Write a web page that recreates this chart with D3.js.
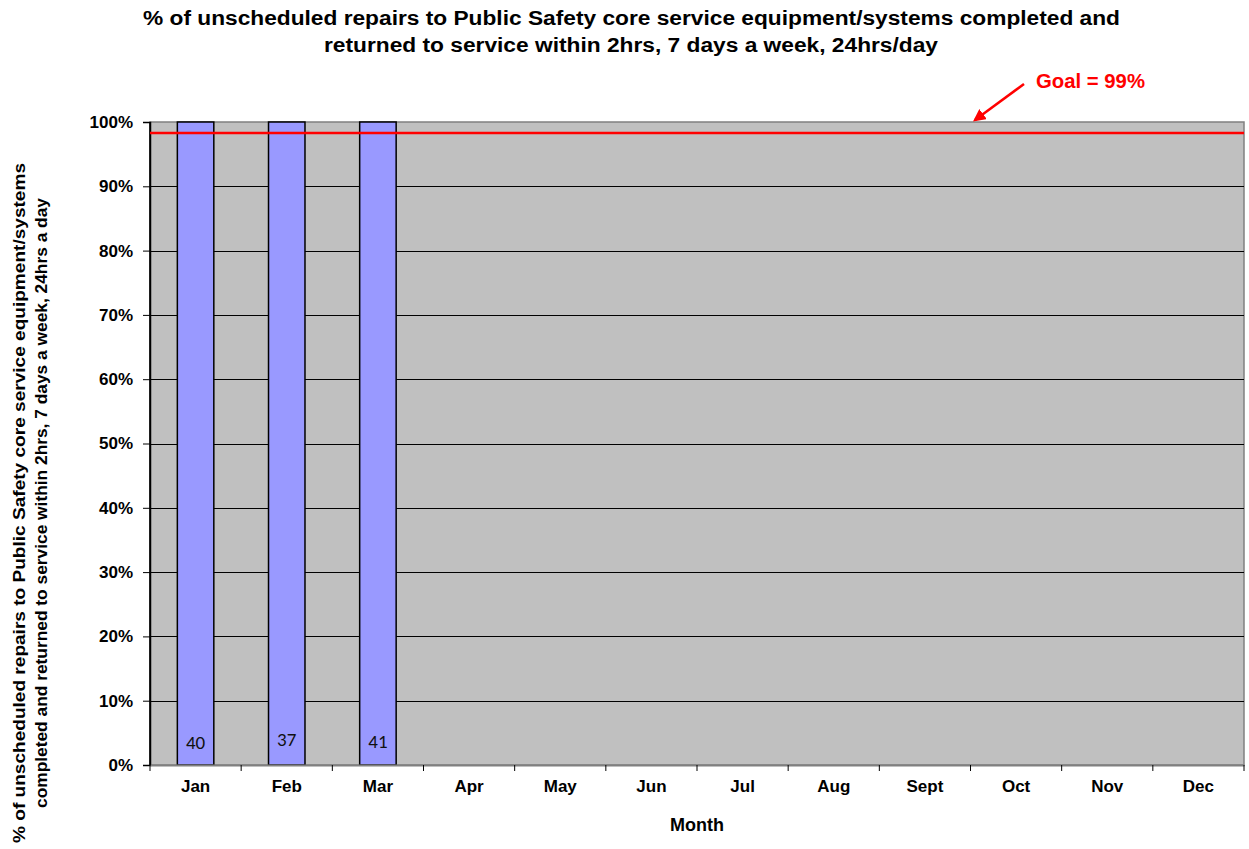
<!DOCTYPE html>
<html>
<head>
<meta charset="utf-8">
<script src="https://cdn.jsdelivr.net/npm/d3@7"></script>
<style>
  body { margin: 0; background: #fff; }
  text { font-family: Arial, "Liberation Sans", sans-serif; }
</style>
</head>
<body>
<div id="canvas"></div>
<script>
// data
var months = ['Jan','Feb','Mar','Apr','May','Jun','Jul','Aug','Sept','Oct','Nov','Dec'];
var pctValues = [100, 100, 100, null, null, null, null, null, null, null, null, null];
var counts = [40, 37, 41];
var goalLine = 98.3;
var yTicks = [0, 10, 20, 30, 40, 50, 60, 70, 80, 90, 100];

// layout
var W = 1249, H = 849;
var pLeft = 150, pRight = 1244, pTop = 122, pBottom = 765;

var svg = d3.select('#canvas')
    .append('svg')
    .attr('width', W)
    .attr('height', H);

var x = d3.scaleBand()
    .domain(months)
    .range([pLeft, pRight])
    .paddingInner(0.6)
    .paddingOuter(0.3);

var xb = d3.scaleBand()
    .domain(months)
    .range([pLeft, pRight]);

var y = d3.scaleLinear()
    .domain([0, 100])
    .range([pBottom, pTop]);

// plot background
svg.append('rect')
    .attr('x', pLeft)
    .attr('y', pTop)
    .attr('width', pRight - pLeft)
    .attr('height', pBottom - pTop)
    .attr('fill', '#c0c0c0')
    .attr('stroke', '#808080')
    .attr('stroke-width', 1.5);

// gridlines
svg.selectAll('.grid')
    .data(yTicks.filter(function(d){ return d > 0 && d < 100; }))
    .enter()
    .append('line')
    .attr('x1', pLeft)
    .attr('x2', pRight)
    .attr('y1', function(d){ return Math.round(y(d)) + 0.5; })
    .attr('y2', function(d){ return Math.round(y(d)) + 0.5; })
    .attr('stroke', '#000')
    .attr('stroke-width', 1);

// y axis
var yAxis = svg.append('g')
    .attr('transform', 'translate(' + pLeft + ',0)')
    .call(d3.axisLeft(y).tickValues(yTicks).tickSize(7).tickFormat(function(d){ return d + '%'; }));
yAxis.select('.domain').attr('stroke', '#000').attr('stroke-width', 1.5);
yAxis.selectAll('.tick line').attr('stroke', '#000');
yAxis.selectAll('.tick text')
    .attr('x', -17)
    .style('font-size', '17px')
    .style('font-weight', 'bold')
    .style('font-family', 'Arial, "Liberation Sans", sans-serif')
    .attr('fill', '#000');

// bars
var bars = months.map(function(m, i){ return {month: m, value: pctValues[i], count: counts[i]}; })
    .filter(function(d){ return d.value != null; });

svg.selectAll('.bar')
    .data(bars)
    .enter()
    .append('rect')
    .attr('class', 'bar')
    .attr('x', function(d){ return x(d.month); })
    .attr('y', function(d){ return y(d.value); })
    .attr('width', x.bandwidth())
    .attr('height', function(d){ return y(0) - y(d.value); })
    .attr('fill', '#9999ff')
    .attr('stroke', '#000')
    .attr('stroke-width', 1.5);

// count labels
var labelDy = [0, -3, -1];
svg.selectAll('.count')
    .data(bars)
    .enter()
    .append('text')
    .attr('x', function(d){ return x(d.month) + x.bandwidth() / 2; })
    .attr('y', function(d, i){ return pBottom - 16 + labelDy[i]; })
    .attr('text-anchor', 'middle')
    .style('font-size', '19px')
    .style('font-family', 'Carlito, "Open Sans", sans-serif')
    .attr('fill', '#111')
    .text(function(d){ return d.count; });

// x axis
var xAxis = svg.append('g')
    .attr('transform', 'translate(0,' + pBottom + ')')
    .call(d3.axisBottom(xb).tickSize(0).tickPadding(15));
xAxis.select('.domain').attr('stroke', '#808080').attr('stroke-width', 2);
xAxis.selectAll('.tick text')
    .style('font-size', '17px')
    .style('font-weight', 'bold')
    .style('font-family', 'Arial, "Liberation Sans", sans-serif')
    .attr('fill', '#000');

// x tick marks at band edges
svg.selectAll('.xtick')
    .data(months.concat(['end']))
    .enter()
    .append('line')
    .attr('x1', function(d, i){ return pLeft + i * xb.bandwidth(); })
    .attr('x2', function(d, i){ return pLeft + i * xb.bandwidth(); })
    .attr('y1', pBottom)
    .attr('y2', pBottom + 6)
    .attr('stroke', '#000')
    .attr('stroke-width', 1);

// left border
svg.append('line')
    .attr('x1', pLeft).attr('x2', pLeft)
    .attr('y1', pTop).attr('y2', pBottom)
    .attr('stroke', '#000').attr('stroke-width', 1.5);

// goal line
svg.append('line')
    .attr('x1', pLeft)
    .attr('x2', pRight)
    .attr('y1', y(goalLine))
    .attr('y2', y(goalLine))
    .attr('stroke', '#ff0000')
    .attr('stroke-width', 2.5);

// goal annotation
svg.append('defs').append('marker')
    .attr('id', 'arrow')
    .attr('viewBox', '0 0 10 10')
    .attr('refX', 8)
    .attr('refY', 5)
    .attr('markerWidth', 5)
    .attr('markerHeight', 5)
    .attr('orient', 'auto')
    .append('path')
    .attr('d', 'M0,0 L10,5 L0,10 z')
    .attr('fill', '#ff0000');

svg.append('line')
    .attr('x1', 1024).attr('y1', 84)
    .attr('x2', 975).attr('y2', 120)
    .attr('stroke', '#ff0000')
    .attr('stroke-width', 2.5)
    .attr('marker-end', 'url(#arrow)');

svg.append('text')
    .attr('x', 1036)
    .attr('y', 88)
    .attr('fill', '#ff0000')
    .attr('textLength', 109)
    .attr('lengthAdjust', 'spacingAndGlyphs')
    .style('font-size', '20px')
    .style('font-weight', 'bold')
    .text('Goal = 99%');

// title
var title = svg.append('text')
    .style('font-size', '19.5px')
    .style('font-weight', 'bold');
title.append('tspan').attr('x', 143).attr('y', 25)
    .attr('textLength', 977).attr('lengthAdjust', 'spacingAndGlyphs')
    .text('%  of unscheduled repairs to Public Safety core service equipment/systems  completed and');
title.append('tspan').attr('x', 324).attr('y', 52)
    .attr('textLength', 614).attr('lengthAdjust', 'spacingAndGlyphs')
    .text('returned to service within 2hrs, 7 days a week, 24hrs/day');

// y title
var ytitle = svg.append('text')
    .attr('transform', 'translate(25,' + 503 + ') rotate(-90)')
    .attr('text-anchor', 'middle')
    .style('font-size', '17px')
    .style('font-weight', 'bold');
ytitle.append('tspan').attr('x', 0).attr('y', 0)
    .attr('textLength', 680).attr('lengthAdjust', 'spacingAndGlyphs')
    .text('% of unscheduled repairs to Public Safety core service equipment/systems');
ytitle.append('tspan').attr('x', 0).attr('y', 22)
    .attr('textLength', 610).attr('lengthAdjust', 'spacingAndGlyphs')
    .text('completed and returned to service within  2hrs, 7 days a week, 24hrs a day');

// x title
svg.append('text')
    .attr('x', 697)
    .attr('y', 831)
    .attr('text-anchor', 'middle')
    .style('font-size', '18px')
    .style('font-weight', 'bold')
    .text('Month');
</script>
</body>
</html>
